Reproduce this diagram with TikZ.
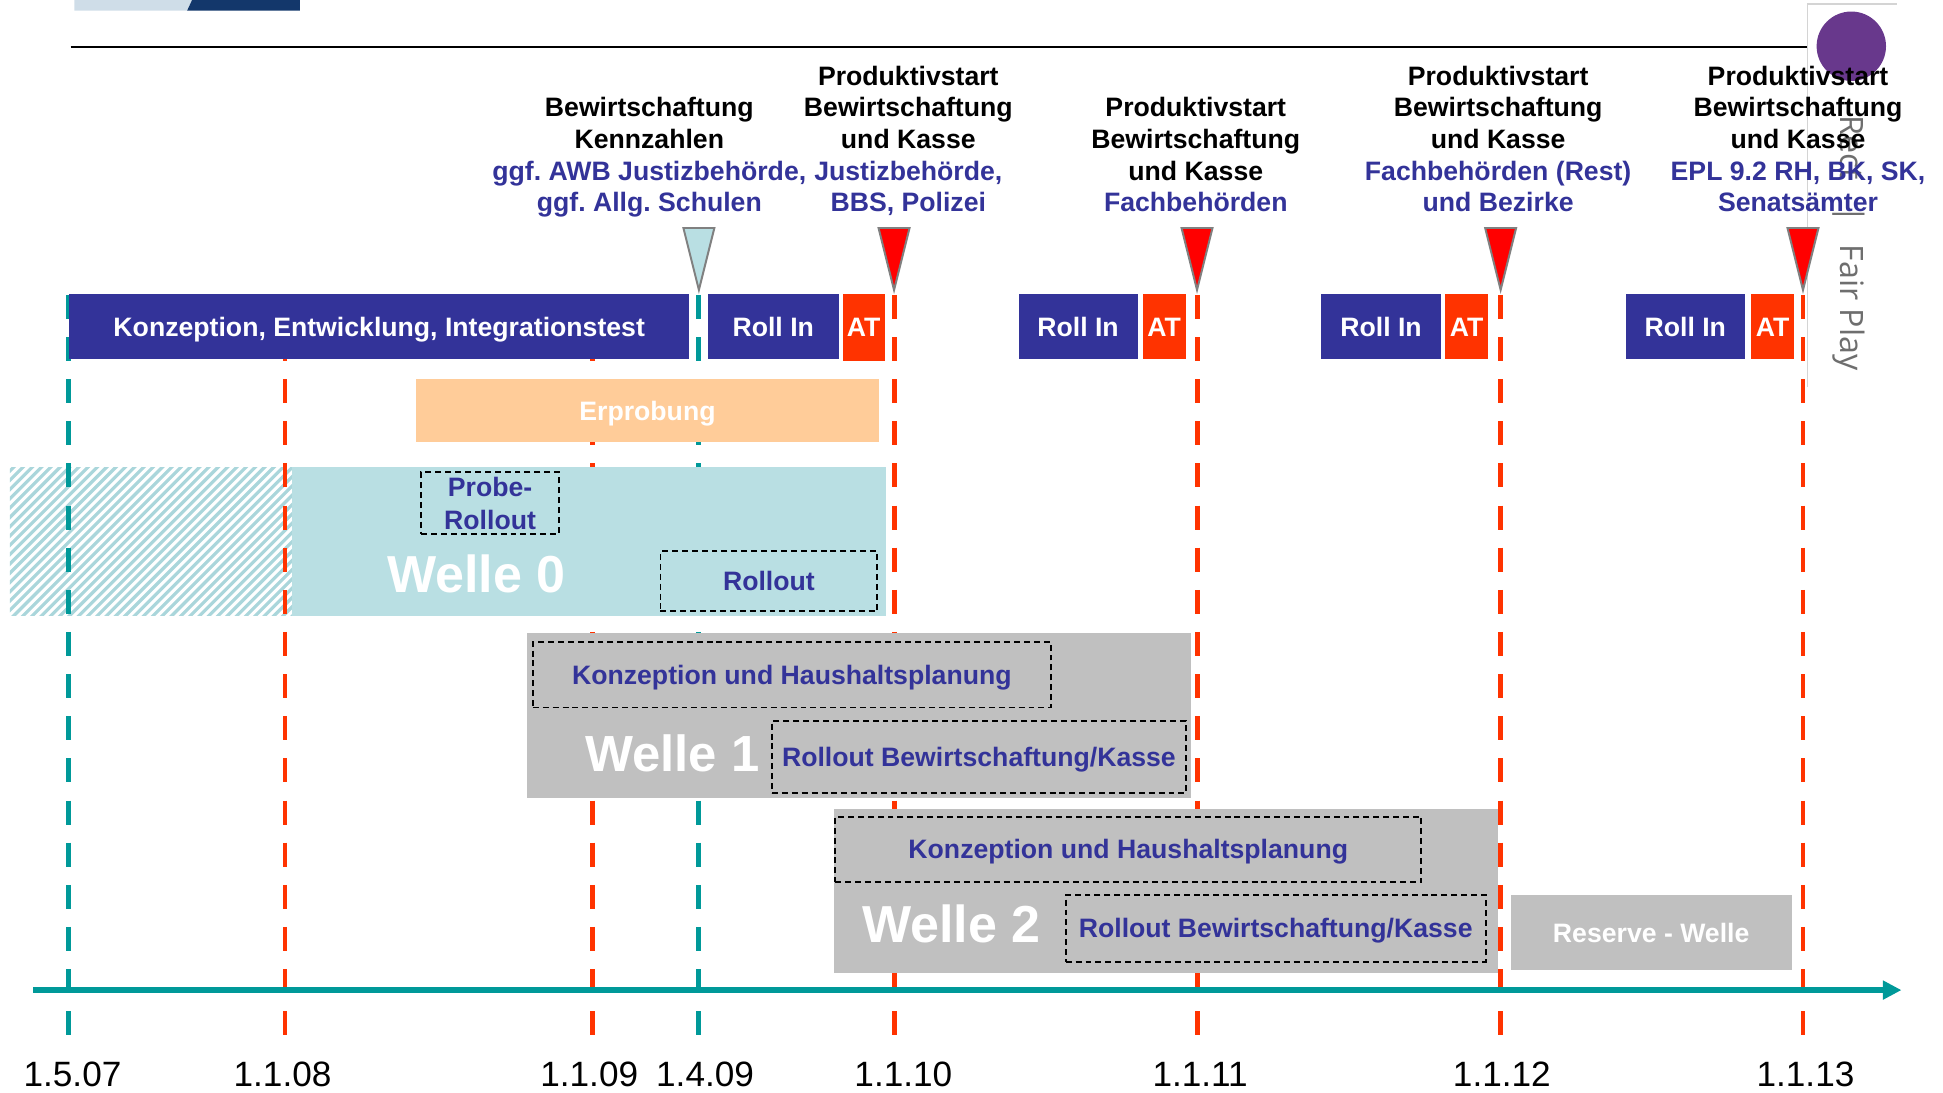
\documentclass[tikz,border=0pt]{standalone}
\usepackage{fontspec}
\setmainfont{Liberation Sans}
\newfontfamily\fpfont{Open Sans}
\usetikzlibrary{arrows.meta}
\frenchspacing
\definecolor{navy}{RGB}{51,51,153}
\definecolor{atred}{RGB}{255,51,0}
\definecolor{tred}{RGB}{255,0,0}
\definecolor{tealx}{RGB}{0,153,153}
\definecolor{lteal}{RGB}{185,223,227}
\definecolor{hatchc}{RGB}{170,214,219}
\definecolor{peach}{RGB}{255,204,153}
\definecolor{wgray}{RGB}{192,192,192}
\definecolor{purp}{RGB}{104,56,140}
\definecolor{logolight}{RGB}{207,221,232}
\definecolor{logodark}{RGB}{19,55,107}
\definecolor{fpgray}{RGB}{110,110,110}
\definecolor{framegray}{RGB}{212,212,212}
\definecolor{mgray}{RGB}{128,128,128}
\begin{document}
\begin{tikzpicture}[x=0.5pt,y=-0.5pt,
 hd/.style={anchor=base, inner sep=0pt, font=\bfseries\fontsize{10.75}{12.8}\selectfont},
 hdb/.style={hd, text=navy},
 lbl/.style={anchor=base, inner sep=0pt, font=\fontsize{14.2}{16}\selectfont},
 solidbox/.style={inner sep=0pt, text=white, font=\bfseries\fontsize{10.75}{12.8}\selectfont, text height=9.6pt, text depth=1.9pt},
 navybox/.style={solidbox, fill=navy},
 atbox/.style={solidbox, fill=atred},
 dbox/.style={draw=black, line width=0.75pt, dash pattern=on 2.4pt off 1.6pt, inner sep=0pt, text=navy, font=\bfseries\fontsize{10.75}{13.4}\selectfont},
 dboxs/.style={dbox, text height=9.6pt, text depth=1.9pt},
 wellebox/.style={inner sep=0pt, fill=wgray},
 welletext/.style={anchor=base, inner sep=0pt, text=white, font=\bfseries\fontsize{21}{24}\selectfont},
 vred/.style={draw=atred, line width=2pt, dash pattern=on 9.7pt off 7.3pt},
 vteal/.style={draw=tealx, line width=2pt, dash pattern=on 9.7pt off 7.3pt},
 marker/.style={draw=mgray, line width=0.8pt, fill=tred, line join=miter},
 lmarker/.style={marker, fill=lteal},
]
\useasboundingbox (0,0) rectangle (1568,882);

% logo fragment and title rule
\fill[logolight] (60,0) -- (155,0) -- (151,8.6) -- (60,8.6) -- cycle;
\fill[logodark] (155,0) -- (242,0) -- (242,8.6) -- (151,8.6) -- cycle;
\draw[black, line width=0.9pt] (57,37.7) -- (1458,37.7);

% side panel
\draw[framegray, line width=0.5pt] (1458.5,312) -- (1458.5,3.2) -- (1531,3.2);
\fill[purp] (1494,37.3) circle [radius=14pt];
\node[rotate=-90, text=fpgray, font=\fpfont\fontsize{13}{15}\selectfont, inner sep=0pt] (fp) at (1492,196) {Rect\hspace{10.5pt}|\hspace{8.5pt}Fair Play};

% hatched area before Welle 0
\begin{scope}
\clip (8,377) rectangle (236,497);
\foreach \k in {0,...,48} {\draw[hatchc, line width=1.3pt] ({-112+\k*7.5},500) -- ++(135,-135);}
\end{scope}

% vertical date lines
\foreach \x/\s [count=\i] in {55.5/vteal, 230/vred, 478/vred, 564/vteal, 721.5/vred, 966/vred, 1211/vred, 1455/vred} {
  \coordinate (top\i) at (\x,238);
  \coordinate (bot\i) at (\x,835);
  \draw[\s] (top\i) -- (bot\i);
}

% time axis
\coordinate (axL) at (27,799);
\coordinate (axR) at (1534.5,799);
\draw[tealx, line width=2.4pt, -{Triangle[length=7.5pt,width=7.3pt]}] (axL) -- (axR);

% axis labels
\node[lbl] (d1) at (58.5,876.4) {1.5.07};
\node[lbl] (d2) at (228,876.4) {1.1.08};
\node[lbl] (d3) at (475.5,876.4) {1.1.09};
\node[lbl] (d4) at (569,876.4) {1.4.09};
\node[lbl] (d5) at (729,876.4) {1.1.10};
\node[lbl] (d6) at (968.5,876.4) {1.1.11};
\node[lbl] (d7) at (1212,876.4) {1.1.12};
\node[lbl] (d8) at (1457,876.4) {1.1.13};

% markers
\filldraw[lmarker] (551.5,184) -- (576.5,184) -- (564,234) -- cycle;
\foreach \x in {721.5,966,1211,1455} {
  \filldraw[marker] ({\x-12.5},184) -- ({\x+12.5},184) -- (\x,234) -- cycle;
}

% headings
\node[hd]  (h1b) at (524,94.2)  {Bewirtschaftung};
\node[hd]  (h1c) at (524,119.8) {Kennzahlen};
\node[hdb] (h1d) at (524,145.4) {ggf. AWB Justizbehörde,};
\node[hdb] (h1e) at (524,171.0) {ggf. Allg. Schulen};

\node[hd]  (h2a) at (733,68.6)  {Produktivstart};
\node[hd]  (h2b) at (733,94.2)  {Bewirtschaftung};
\node[hd]  (h2c) at (733,119.8) {und Kasse};
\node[hdb] (h2d) at (733,145.4) {Justizbehörde,};
\node[hdb] (h2e) at (733,171.0) {BBS, Polizei};

\node[hd]  (h3b) at (965,94.2)  {Produktivstart};
\node[hd]  (h3c) at (965,119.8) {Bewirtschaftung};
\node[hd]  (h3d) at (965,145.4) {und Kasse};
\node[hdb] (h3e) at (965,171.0) {Fachbehörden};

\node[hd]  (h4a) at (1209,68.6)  {Produktivstart};
\node[hd]  (h4b) at (1209,94.2)  {Bewirtschaftung};
\node[hd]  (h4c) at (1209,119.8) {und Kasse};
\node[hdb] (h4d) at (1209,145.4) {Fachbehörden (Rest)};
\node[hdb] (h4e) at (1209,171.0) {und Bezirke};

\node[hd]  (h5a) at (1451,68.6)  {Produktivstart};
\node[hd]  (h5b) at (1451,94.2)  {Bewirtschaftung};
\node[hd]  (h5c) at (1451,119.8) {und Kasse};
\node[hdb] (h5d) at (1451,145.4) {EPL 9.2 RH, BK, SK,};
\node[hdb] (h5e) at (1451,171.0) {Senatsämter};

% top row
\node[navybox, minimum width=250pt, minimum height=26.5pt] (konz) at (306,263.5) {Konzeption, Entwicklung, Integrationstest};
\node[navybox, minimum width=53pt, minimum height=26.5pt] (roll1) at (624,263.5) {Roll In};
\node[atbox, minimum width=17pt, minimum height=27pt] (at1) at (697,264) {AT};
\node[navybox, minimum width=48pt, minimum height=26.5pt] (roll2) at (870,263.5) {Roll In};
\node[atbox, minimum width=17.5pt, minimum height=26.5pt] (at2) at (939.5,263.5) {AT};
\node[navybox, minimum width=48.5pt, minimum height=26.5pt] (roll3) at (1114.5,263.5) {Roll In};
\node[atbox, minimum width=17.5pt, minimum height=26.5pt] (at3) at (1183.5,263.5) {AT};
\node[navybox, minimum width=48pt, minimum height=26.5pt] (roll4) at (1360,263.5) {Roll In};
\node[atbox, minimum width=17.5pt, minimum height=26.5pt] (at4) at (1430.5,263.5) {AT};

% Erprobung
\node[solidbox, fill=peach, minimum width=186.5pt, minimum height=25.5pt] (erp) at (522.5,331.5) {Erprobung};

% Welle 0
\node[inner sep=0pt, fill=lteal, minimum width=239.5pt, minimum height=60pt] (w0) at (475.5,437) {};
\node[dbox, align=center, minimum width=55.5pt, minimum height=25pt] (probe) at (395.5,406) {Probe-\\Rollout};
\node[welletext] (w0t) at (384.5,478.5) {Welle 0};
\node[dboxs, minimum width=87.5pt, minimum height=24pt] (ro0) at (620.5,469) {Rollout};

% Welle 1
\node[wellebox, minimum width=268pt, minimum height=66.5pt] (w1) at (693,577.5) {};
\node[dboxs, minimum width=209pt, minimum height=26.5pt] (kh1) at (639,544.5) {Konzeption und Haushaltsplanung};
\node[welletext, font=\bfseries\fontsize{20.5}{24}\selectfont] (w1t) at (542.5,622.7) {Welle 1};
\node[dboxs, minimum width=167pt, minimum height=29pt] (rb1) at (790,611) {Rollout Bewirtschaftung/Kasse};

% Welle 2
\node[wellebox, minimum width=268pt, minimum height=66pt] (w2) at (941,719) {};
\node[dboxs, minimum width=236.5pt, minimum height=26.5pt] (kh2) at (910.5,685.5) {Konzeption und Haushaltsplanung};
\node[welletext] (w2t) at (767.7,760.7) {Welle 2};
\node[dboxs, minimum width=169.5pt, minimum height=27pt] (rb2) at (1029.5,749) {Rollout Bewirtschaftung/Kasse};

% Reserve
\node[solidbox, fill=wgray, minimum width=113.5pt, minimum height=30.5pt] (res) at (1332.5,752.5) {Reserve - Welle};
\end{tikzpicture}
\end{document}
